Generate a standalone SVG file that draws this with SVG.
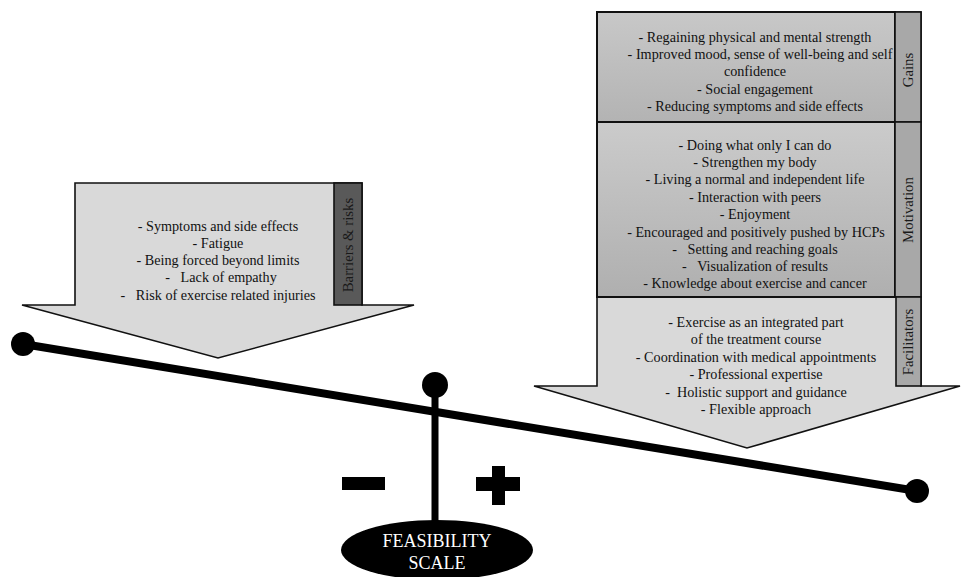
<svg xmlns="http://www.w3.org/2000/svg" width="962" height="577" viewBox="0 0 962 577">
<defs>
<linearGradient id="gGains" x1="0" y1="0" x2="0" y2="1">
<stop offset="0" stop-color="#c8c8c8"/><stop offset="1" stop-color="#b3b3b3"/>
</linearGradient>
<linearGradient id="gMot" x1="0" y1="0" x2="0" y2="1">
<stop offset="0" stop-color="#cbcbcb"/><stop offset="1" stop-color="#afafaf"/>
</linearGradient>
<style>
.t{font-family:"Liberation Serif","Times New Roman",serif;font-size:14.2px;fill:#111;text-anchor:middle;white-space:pre}
.lab{font-family:"Liberation Serif","Times New Roman",serif;font-size:14.8px;fill:#1a1a1a;text-anchor:middle;dominant-baseline:central}
.arrow{fill:#d9d9d9;stroke:#111;stroke-width:1.6;stroke-linejoin:miter}
.box{stroke:#111;stroke-width:2}
.labbox{fill:#a8a8a8;stroke:#111;stroke-width:1.6}
.blk{fill:#000}
.sc{font-family:"Liberation Serif","Times New Roman",serif;font-size:18px;fill:#fff;text-anchor:middle}
</style>
</defs>
<rect width="962" height="577" fill="#fff"/>

<g id="barriers">
<polygon class="arrow" points="75,183 362,183 362,305 414,305 218,358 22,305 75,305"/>
<rect x="334" y="183" width="28" height="122" fill="#595959" stroke="#111" stroke-width="1.6"/>
<text class="lab" transform="translate(348,245) rotate(-90)">Barriers &amp; risks</text>
<text class="t" x="218" y="231">- Symptoms and side effects</text>
<text class="t" x="218" y="248">- Fatigue</text>
<text class="t" x="218" y="265">- Being forced beyond limits</text>
<text class="t" x="221" y="282">-   Lack of empathy</text>
<text class="t" x="218" y="300">-   Risk of exercise related injuries</text>
</g>

<g id="positive-arrow">
<polygon class="arrow" points="597,12 921,12 921,386 960,386 747,448 534,386 597,386"/>
</g>

<g id="gains">
<rect class="box" x="597" y="12" width="298" height="110" fill="url(#gGains)"/>
<rect class="labbox" x="895" y="12" width="26" height="110"/>
<text class="lab" transform="translate(908,70) rotate(-90)">Gains</text>
<text class="t" x="755" y="42">- Regaining physical and mental strength</text>
<text class="t" x="760" y="59">- Improved mood, sense of well-being and self</text>
<text class="t" x="755" y="76">confidence</text>
<text class="t" x="755" y="93.5">- Social engagement</text>
<text class="t" x="755" y="111">- Reducing symptoms and side effects</text>
</g>

<g id="motivation">
<rect class="box" x="597" y="122" width="298" height="175" fill="url(#gMot)"/>
<rect class="labbox" x="895" y="122" width="26" height="175"/>
<text class="lab" transform="translate(908,210) rotate(-90)">Motivation</text>
<text class="t" x="755" y="150">- Doing what only I can do</text>
<text class="t" x="755" y="167">- Strengthen my body</text>
<text class="t" x="755" y="184">- Living a normal and independent life</text>
<text class="t" x="755" y="202">- Interaction with peers</text>
<text class="t" x="755" y="219">- Enjoyment</text>
<text class="t" x="756" y="237">- Encouraged and positively pushed by HCPs</text>
<text class="t" x="755" y="254">-   Setting and reaching goals</text>
<text class="t" x="755" y="271">-   Visualization of results</text>
<text class="t" x="755" y="288">- Knowledge about exercise and cancer</text>
</g>

<g id="facilitators">
<rect class="labbox" x="896" y="297" width="25" height="89"/>
<text class="lab" transform="translate(908,342) rotate(-90)">Facilitators</text>
<text class="t" x="756" y="327">- Exercise as an integrated part</text>
<text class="t" x="756" y="344">of the treatment course</text>
<text class="t" x="756" y="362">- Coordination with medical appointments</text>
<text class="t" x="756" y="379">- Professional expertise</text>
<text class="t" x="756" y="397">-  Holistic support and guidance</text>
<text class="t" x="756" y="414">- Flexible approach</text>
</g>

<g id="connectors">
<line x1="23" y1="344" x2="917" y2="491" stroke="#000" stroke-width="8"/>
<line x1="435" y1="385" x2="435" y2="526" stroke="#000" stroke-width="7"/>
</g>

<g id="scale">
<circle class="blk" cx="23" cy="344" r="12"/>
<circle class="blk" cx="917" cy="491" r="12"/>
<circle class="blk" cx="435" cy="385" r="13"/>
<rect class="blk" x="342" y="477" width="43" height="13"/>
<rect class="blk" x="476" y="477" width="44" height="14"/>
<rect class="blk" x="492" y="466" width="13" height="39"/>
<ellipse class="blk" cx="437" cy="550" rx="96" ry="30"/>
<text class="sc" x="437" y="547">FEASIBILITY</text>
<text class="sc" x="437" y="569">SCALE</text>
</g>
</svg>
